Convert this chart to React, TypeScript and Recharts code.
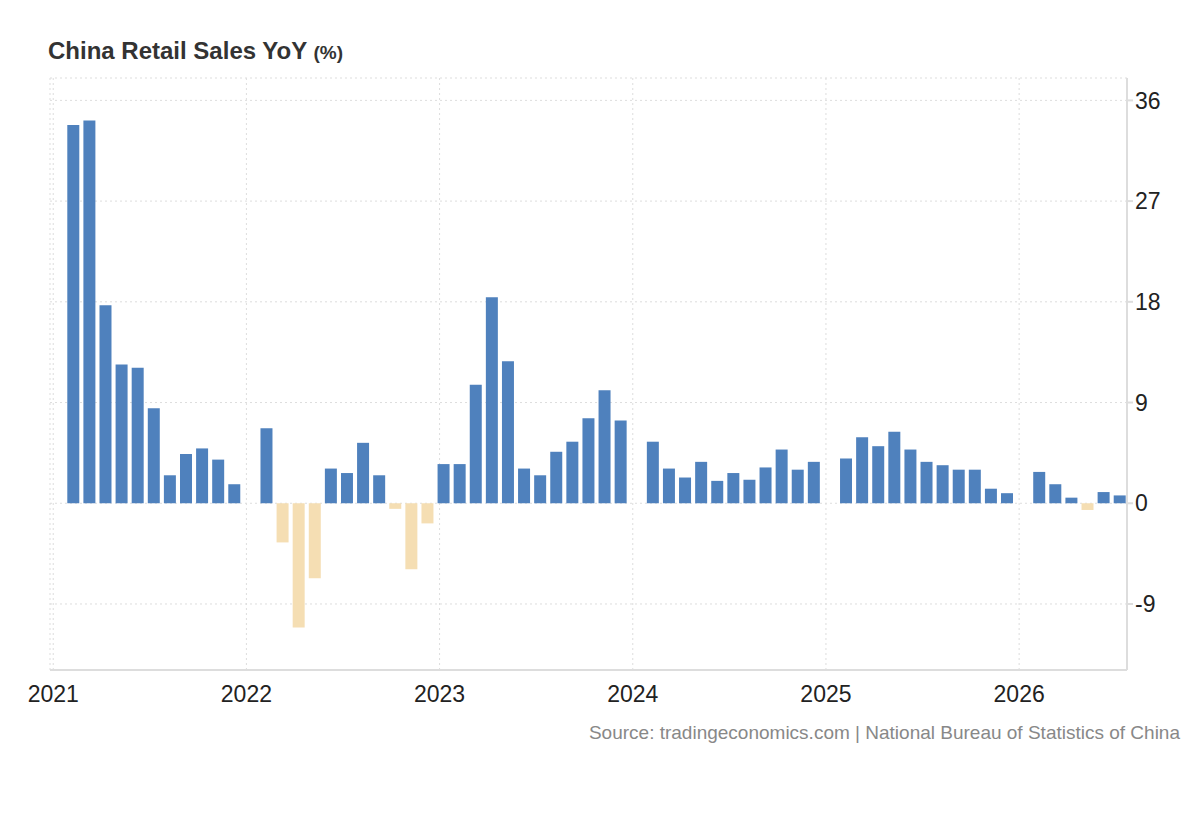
import { Bar, BarChart, CartesianGrid, Cell, XAxis, YAxis } from 'recharts'

const years = ['2021', '2022', '2023', '2024', '2025', '2026']

// monthly values Jan..Dec per year, null where no release (Jan merged into Feb)
const y2021 = [null, 33.8, 34.2, 17.7, 12.4, 12.1, 8.5, 2.5, 4.4, 4.9, 3.9, 1.7]
const y2022 = [null, 6.7, -3.5, -11.1, -6.7, 3.1, 2.7, 5.4, 2.5, -0.5, -5.9, -1.8]
const y2023 = [3.5, 3.5, 10.6, 18.4, 12.7, 3.1, 2.5, 4.6, 5.5, 7.6, 10.1, 7.4]
const y2024 = [null, 5.5, 3.1, 2.3, 3.7, 2.0, 2.7, 2.1, 3.2, 4.8, 3.0, 3.7]
const y2025 = [null, 4.0, 5.9, 5.1, 6.4, 4.8, 3.7, 3.4, 3.0, 3.0, 1.3, 0.9]
const y2026 = [null, 2.8, 1.7, 0.5, -0.6, 1.0, 0.7]

const yTicks = [-9, 0, 9, 18, 27, 36]

// bars sit a little after the month start, like the source
const data = [y2021, y2022, y2023, y2024, y2025, y2026]
  .flat()
  .map((v, i) => ({ m: i + 0.25, v }))

const BLUE = '#4f81bd'
const TAN = '#f5deb3'

function App() {
  return (
    <div style={{ position: 'relative', width: 1200, height: 820, margin: -8, fontFamily: 'Arial, "Liberation Sans", sans-serif' }}>
      <div style={{ position: 'absolute', left: 48, top: 37, fontSize: 24, fontWeight: 'bold', color: '#333' }}>
        China Retail Sales YoY <span style={{ fontSize: 19 }}>(%)</span>
      </div>
      <BarChart
        width={1200}
        height={820}
        data={data}
        margin={{ top: 78, right: 0, left: 50, bottom: 120 }}
      >
        <CartesianGrid stroke="#ddd" strokeDasharray="2 3" />
        <XAxis
          dataKey="m"
          type="number"
          domain={[-0.2, 66.7]}
          ticks={[0, 12, 24, 36, 48, 60]}
          tickFormatter={(m: number) => years[m / 12]}
          height={30}
          stroke="#ddd"
          strokeWidth={2}
          tickLine={false}
          tick={{ fontSize: 23, fill: '#222', dy: 8 }}
          allowDataOverflow
        />
        <YAxis
          orientation="right"
          domain={[-14.9, 38]}
          ticks={yTicks}
          width={73}
          stroke="#ddd"
          strokeWidth={2}
          tickSize={6}
          tick={{ fontSize: 23, fill: '#222', dx: 0 }}
          allowDataOverflow
        />
        <Bar dataKey="v" barSize={12} isAnimationActive={false}>
          {data.map((d) => (
            <Cell key={d.m} fill={d.v !== null && d.v < 0 ? TAN : BLUE} />
          ))}
        </Bar>
      </BarChart>
      <div style={{ position: 'absolute', right: 20, top: 722, fontSize: 19, color: '#888' }}>
        Source: tradingeconomics.com | National Bureau of Statistics of China
      </div>
    </div>
  )
}

export default App
